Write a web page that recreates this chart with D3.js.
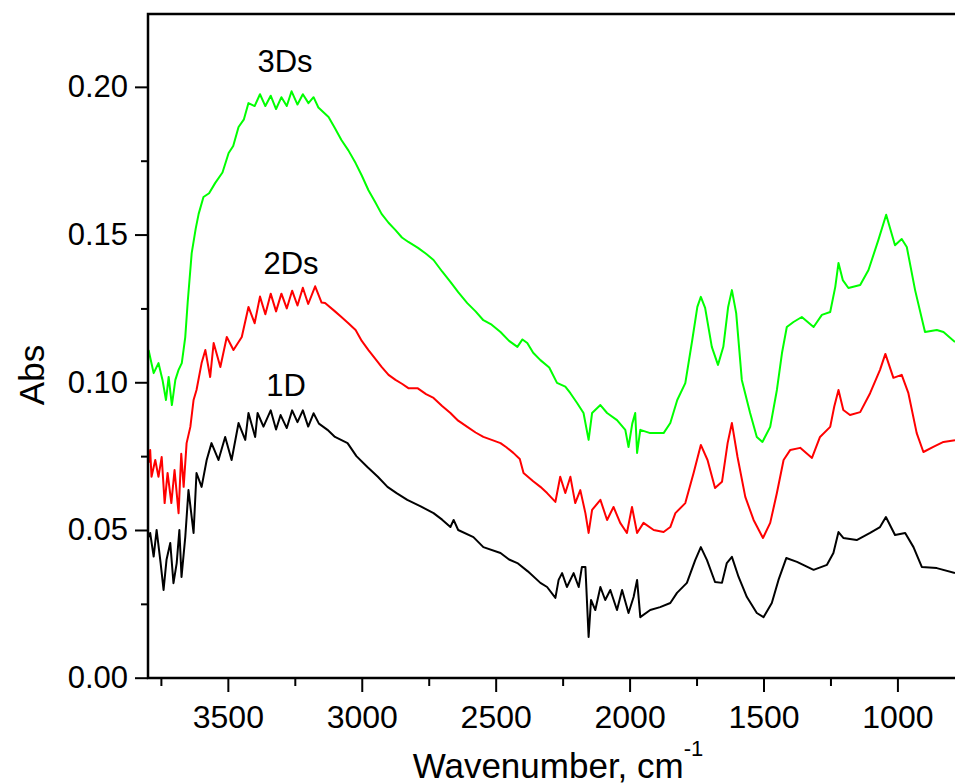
<!DOCTYPE html>
<html>
<head>
<meta charset="utf-8">
<script src="https://cdn.jsdelivr.net/npm/d3@7"></script>
<style>
  body { margin: 0; background: #fff; }
  svg { display: block; }
  text { font-family: "Liberation Sans", Arial, sans-serif; fill: #000; }
</style>
</head>
<body>
<svg id="chart" width="955" height="784"></svg>
<script>
// Spektre (bølgetal i cm-1, absorbans)
const wn3Ds = [3796, 3777, 3759, 3744, 3731, 3721, 3709, 3696, 3684, 3672, 3659, 3650, 3635, 3620, 3609, 3591, 3570, 3547, 3520, 3497, 3480, 3460, 3440, 3423, 3400, 3380, 3360, 3340, 3320, 3300, 3280, 3262, 3240, 3220, 3199, 3180, 3162, 3124, 3100, 3076, 3050, 3023, 3000, 2975, 2950, 2926, 2900, 2874, 2850, 2826, 2790, 2760, 2732, 2700, 2669, 2640, 2606, 2575, 2546, 2515, 2482, 2450, 2419, 2400, 2382, 2360, 2333, 2300, 2271, 2240, 2221, 2196, 2172, 2153, 2140, 2109, 2084, 2047, 2016, 2004, 1990, 1979, 1972, 1960, 1923, 1873, 1848, 1822, 1792, 1766, 1747, 1734, 1718, 1693, 1670, 1650, 1632, 1618, 1602, 1581, 1550, 1525, 1504, 1475, 1450, 1431, 1413, 1388, 1357, 1313, 1282, 1251, 1232, 1220, 1204, 1183, 1139, 1108, 1071, 1042, 1009, 984, 965, 934, 897, 853, 828, 785];
const abs3Ds = [0.1109, 0.1031, 0.1065, 0.1008, 0.094, 0.1018, 0.0923, 0.1008, 0.1042, 0.1065, 0.1153, 0.127, 0.1437, 0.152, 0.157, 0.1627, 0.164, 0.1675, 0.171, 0.1776, 0.18, 0.1864, 0.189, 0.1945, 0.1935, 0.1975, 0.1935, 0.197, 0.1925, 0.1965, 0.1935, 0.1985, 0.194, 0.1975, 0.1945, 0.1965, 0.193, 0.1898, 0.186, 0.182, 0.1785, 0.1742, 0.170, 0.165, 0.161, 0.157, 0.154, 0.1515, 0.149, 0.1475, 0.1455, 0.1435, 0.1414, 0.1375, 0.134, 0.1305, 0.1268, 0.124, 0.121, 0.1195, 0.117, 0.114, 0.112, 0.1145, 0.1133, 0.110, 0.1075, 0.105, 0.0998, 0.0985, 0.0963, 0.093, 0.0896, 0.0805, 0.0896, 0.0923, 0.0896, 0.0872, 0.0839, 0.0781, 0.086, 0.0896, 0.0761, 0.0839, 0.0828, 0.0828, 0.0862, 0.094, 0.0997, 0.1143, 0.1255, 0.1289, 0.1252, 0.112, 0.1059, 0.112, 0.1255, 0.1312, 0.1234, 0.1008, 0.0896, 0.0815, 0.0798, 0.0849, 0.0974, 0.1099, 0.1187, 0.1204, 0.1221, 0.1187, 0.1228, 0.1238, 0.1323, 0.1404, 0.1346, 0.1319, 0.1329, 0.138, 0.1482, 0.1567, 0.1464, 0.1485, 0.1458, 0.1312, 0.117, 0.1177, 0.117, 0.1136];

const wn2Ds = [3796, 3790, 3785, 3771, 3759, 3747, 3736, 3725, 3711, 3699, 3684, 3674, 3665, 3654, 3640, 3628, 3617, 3598, 3584, 3566, 3553, 3528, 3504, 3479, 3448, 3423, 3400, 3380, 3360, 3340, 3320, 3300, 3280, 3260, 3240, 3220, 3200, 3174, 3150, 3137, 3100, 3076, 3050, 3023, 3000, 2975, 2950, 2926, 2900, 2874, 2850, 2826, 2792, 2760, 2732, 2700, 2669, 2640, 2606, 2575, 2546, 2515, 2482, 2460, 2434, 2410, 2396, 2360, 2333, 2308, 2277, 2259, 2240, 2221, 2203, 2184, 2165, 2153, 2140, 2109, 2084, 2060, 2035, 2010, 1991, 1972, 1948, 1910, 1873, 1848, 1829, 1792, 1761, 1734, 1709, 1681, 1655, 1634, 1618, 1597, 1568, 1537, 1502, 1475, 1450, 1425, 1400, 1363, 1319, 1289, 1251, 1236, 1220, 1202, 1177, 1139, 1102, 1065, 1045, 1015, 984, 959, 928, 903, 866, 828, 785];
const abs2Ds = [0.0727, 0.0771, 0.068, 0.0737, 0.068, 0.0747, 0.0591, 0.0693, 0.0591, 0.0703, 0.0557, 0.0758, 0.0646, 0.0794, 0.0849, 0.094, 0.0974, 0.1065, 0.1109, 0.1018, 0.1133, 0.1052, 0.1153, 0.1109, 0.1153, 0.1255, 0.120, 0.129, 0.123, 0.130, 0.124, 0.130, 0.125, 0.131, 0.126, 0.132, 0.1265, 0.1325, 0.127, 0.1268, 0.124, 0.1221, 0.120, 0.1177, 0.114, 0.1109, 0.108, 0.1052, 0.1025, 0.1008, 0.0995, 0.098, 0.098, 0.096, 0.0947, 0.092, 0.0896, 0.087, 0.0849, 0.083, 0.0815, 0.0805, 0.0794, 0.078, 0.0761, 0.074, 0.0693, 0.0665, 0.0646, 0.0625, 0.0595, 0.068, 0.0625, 0.068, 0.0591, 0.0635, 0.0557, 0.049, 0.0568, 0.0602, 0.0534, 0.0578, 0.0524, 0.049, 0.0578, 0.049, 0.0524, 0.050, 0.0493, 0.051, 0.0557, 0.0591, 0.0693, 0.0788, 0.0737, 0.0642, 0.0663, 0.0794, 0.0862, 0.0747, 0.0612, 0.0534, 0.0473, 0.0524, 0.0625, 0.0737, 0.0771, 0.0778, 0.0744, 0.0815, 0.0849, 0.0917, 0.0974, 0.0906, 0.0889, 0.0899, 0.0963, 0.1042, 0.1096, 0.1015, 0.1025, 0.0963, 0.0828, 0.0764, 0.0781, 0.0798, 0.0804];

const wn1D = [3796, 3790, 3777, 3766, 3751, 3740, 3729, 3715, 3703, 3691, 3681, 3673, 3659, 3647, 3628, 3617, 3598, 3579, 3561, 3535, 3510, 3486, 3460, 3435, 3423, 3398, 3389, 3367, 3340, 3320, 3303, 3280, 3260, 3240, 3220, 3200, 3180, 3160, 3128, 3100, 3053, 3020, 2979, 2940, 2904, 2870, 2830, 2780, 2732, 2700, 2669, 2657, 2640, 2583, 2546, 2482, 2450, 2419, 2380, 2333, 2308, 2277, 2265, 2252, 2234, 2209, 2190, 2178, 2165, 2153, 2144, 2128, 2109, 2091, 2072, 2047, 2028, 2004, 1985, 1972, 1960, 1923, 1886, 1848, 1823, 1786, 1755, 1734, 1711, 1681, 1655, 1637, 1618, 1593, 1562, 1525, 1500, 1469, 1444, 1415, 1375, 1313, 1263, 1239, 1220, 1202, 1152, 1102, 1065, 1043, 1009, 971, 940, 909, 853, 785];
const abs1D = [0.0476, 0.049, 0.041, 0.050, 0.0388, 0.0297, 0.0399, 0.0456, 0.032, 0.0388, 0.050, 0.0341, 0.0476, 0.0635, 0.049, 0.0693, 0.0646, 0.0737, 0.0794, 0.0737, 0.0815, 0.0737, 0.0862, 0.0805, 0.0896, 0.0815, 0.0896, 0.085, 0.0905, 0.084, 0.0889, 0.0845, 0.0905, 0.0865, 0.0905, 0.085, 0.0895, 0.086, 0.0839, 0.0815, 0.0794, 0.075, 0.0713, 0.068, 0.0646, 0.0625, 0.0602, 0.058, 0.0557, 0.0535, 0.051, 0.0534, 0.050, 0.0476, 0.0442, 0.0422, 0.040, 0.0388, 0.036, 0.0321, 0.0307, 0.027, 0.0331, 0.0354, 0.0307, 0.0354, 0.0307, 0.0375, 0.0375, 0.0138, 0.0263, 0.0229, 0.0307, 0.0263, 0.0297, 0.0229, 0.0297, 0.0219, 0.0273, 0.0331, 0.0205, 0.0229, 0.0239, 0.0253, 0.0287, 0.0321, 0.0398, 0.0442, 0.0398, 0.0324, 0.0321, 0.0388, 0.0409, 0.0341, 0.0273, 0.0219, 0.0205, 0.0253, 0.0331, 0.0405, 0.0392, 0.0365, 0.0382, 0.0422, 0.0493, 0.0473, 0.0466, 0.049, 0.051, 0.0544, 0.0483, 0.049, 0.0442, 0.0375, 0.0371, 0.0354];

const seriesNames = ["1D", "2Ds", "3Ds"];
const seriesColors = ["#000000", "#ff0000", "#00ff00"];
const xTicks = [3500, 3000, 2500, 2000, 1500, 1000];
const yTicks = [0.00, 0.05, 0.10, 0.15, 0.20];

const w = 955, h = 784;
const svg = d3.select("#chart");

const xScale = d3.scaleLinear().domain([3800, 785]).range([147.5, 955]);
const yScale = d3.scaleLinear().domain([0, 0.225]).range([677.7, 13]);

// Kurverne
const series = [
  { name: seriesNames[0], wn: wn1D, abs: abs1D },
  { name: seriesNames[1], wn: wn2Ds, abs: abs2Ds },
  { name: seriesNames[2], wn: wn3Ds, abs: abs3Ds }
];

const line = d3.line()
  .x(function (d) { return xScale(d[0]); })
  .y(function (d) { return yScale(d[1]); });

svg.append("defs").append("clipPath").attr("id", "clip")
  .append("rect").attr("x", 148).attr("y", 13).attr("width", w - 148).attr("height", 665);

series.forEach(function (s, i) {
  const pts = s.wn.map(function (x, j) { return [x, s.abs[j]]; });
  svg.append("path")
    .datum(pts)
    .attr("clip-path", "url(#clip)")
    .attr("fill", "none")
    .attr("stroke", seriesColors[i])
    .attr("stroke-width", 2)
    .attr("stroke-linejoin", "round")
    .attr("d", line);
});

// Akser
const xMinor = d3.range(3750, 785, -500);
const yMinor = d3.range(0.025, 0.225, 0.05);

svg.append("g")
  .attr("transform", "translate(0,678)")
  .call(d3.axisBottom(xScale).tickValues(xMinor).tickSize(8).tickFormat(""))
  .call(function (g) { g.select(".domain").remove(); })
  .selectAll("line").attr("stroke-width", 2);

const xAxis = svg.append("g")
  .attr("transform", "translate(0,678)")
  .call(d3.axisBottom(xScale).tickValues(xTicks).tickSize(14).tickPadding(13).tickFormat(d3.format("d")));
xAxis.select(".domain").remove();
xAxis.selectAll("line").attr("stroke-width", 2);
xAxis.selectAll("text").attr("font-size", 32).attr("font-family", "Liberation Sans, Arial, sans-serif");

svg.append("g")
  .attr("transform", "translate(148,0)")
  .call(d3.axisLeft(yScale).tickValues(yMinor).tickSize(7).tickFormat(""))
  .call(function (g) { g.select(".domain").remove(); })
  .selectAll("line").attr("stroke-width", 2);

const yAxis = svg.append("g")
  .attr("transform", "translate(148,0)")
  .call(d3.axisLeft(yScale).tickValues(yTicks).tickSize(13).tickPadding(7).tickFormat(d3.format(".2f")));
yAxis.select(".domain").remove();
yAxis.selectAll("line").attr("stroke-width", 2);
yAxis.selectAll("text").attr("font-size", 31).attr("font-family", "Liberation Sans, Arial, sans-serif");

// Rammen (venstre, top, bund)
svg.append("path")
  .attr("d", "M" + w + ",14H148V678H" + w)
  .attr("fill", "none")
  .attr("stroke", "#000")
  .attr("stroke-width", 2.5);

// Aksetitler
const xt = svg.append("text")
  .attr("x", 558).attr("y", 778)
  .attr("text-anchor", "middle")
  .attr("font-size", 35);
xt.append("tspan").text("Wavenumber, cm");
xt.append("tspan").attr("font-size", 22).attr("dy", -22).text("-1");

svg.append("text")
  .attr("transform", "translate(44,375) rotate(-90)")
  .attr("text-anchor", "middle")
  .attr("font-size", 35)
  .text("Abs");

// Navne på kurverne
const labelPos = [[286, 396], [291, 274], [285, 72]];
seriesNames.forEach(function (n, i) {
  svg.append("text")
    .attr("x", labelPos[i][0]).attr("y", labelPos[i][1])
    .attr("text-anchor", "middle")
    .attr("font-size", 31)
    .text(n);
});
</script>
</body>
</html>
